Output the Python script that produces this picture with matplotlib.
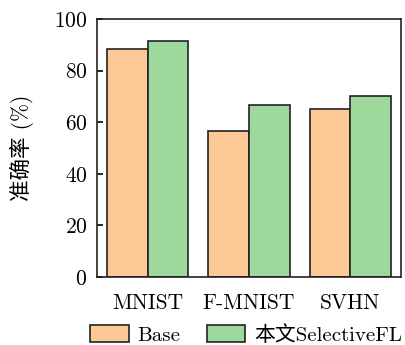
import numpy as np
import matplotlib
matplotlib.use("Agg")
from matplotlib import pyplot as plt

categories = ["MNIST", "F-MNIST", "SVHN"]
base = [88.4, 56.5, 65.0]
selective = [91.5, 66.8, 70.2]
series_labels = ["Base", "本文SelectiveFL"]

plt.rcParams['font.family'] = ['cmr10', 'Noto Sans CJK SC', 'DejaVu Sans']
plt.rcParams['mathtext.fontset'] = 'cm'
plt.rcParams['axes.formatter.use_mathtext'] = True
plt.rcParams['font.size'] = 15.5

fig = plt.figure(figsize=(4.05, 3.45), dpi=100)
ax = fig.add_axes([97/405, 1 - 277/345, 304/405, 258/345])

x = np.arange(len(categories))
w = 0.4
ax.bar(x - w/2, base, w, color='#FCC997', edgecolor='#222222', linewidth=1.2, label=series_labels[0])
ax.bar(x + w/2, selective, w, color='#9ED89C', edgecolor='#222222', linewidth=1.2, label=series_labels[1])

ax.set_xlim(-0.5, 2.5)
ax.set_ylim(0, 100)
ax.set_yticks([0, 20, 40, 60, 80, 100])
ax.set_xticks(x)
ax.set_xticklabels(categories)
ax.tick_params(axis='y', direction='in', length=4, width=1.2, pad=7)
ax.tick_params(axis='x', length=0, pad=12)
for s in ax.spines.values():
    s.set_linewidth(1.2)
    s.set_color('#222222')
ax.set_ylabel('准确率 (%)', labelpad=14)

fig.legend(loc='center left', bbox_to_anchor=(90/405, 1 - 335/345), ncol=2, frameon=False,
           borderpad=0, borderaxespad=0, fontsize=15,
           handlelength=1.85, handleheight=0.85, columnspacing=1.3, handletextpad=0.4)

fig.savefig("out.png", dpi=100)
